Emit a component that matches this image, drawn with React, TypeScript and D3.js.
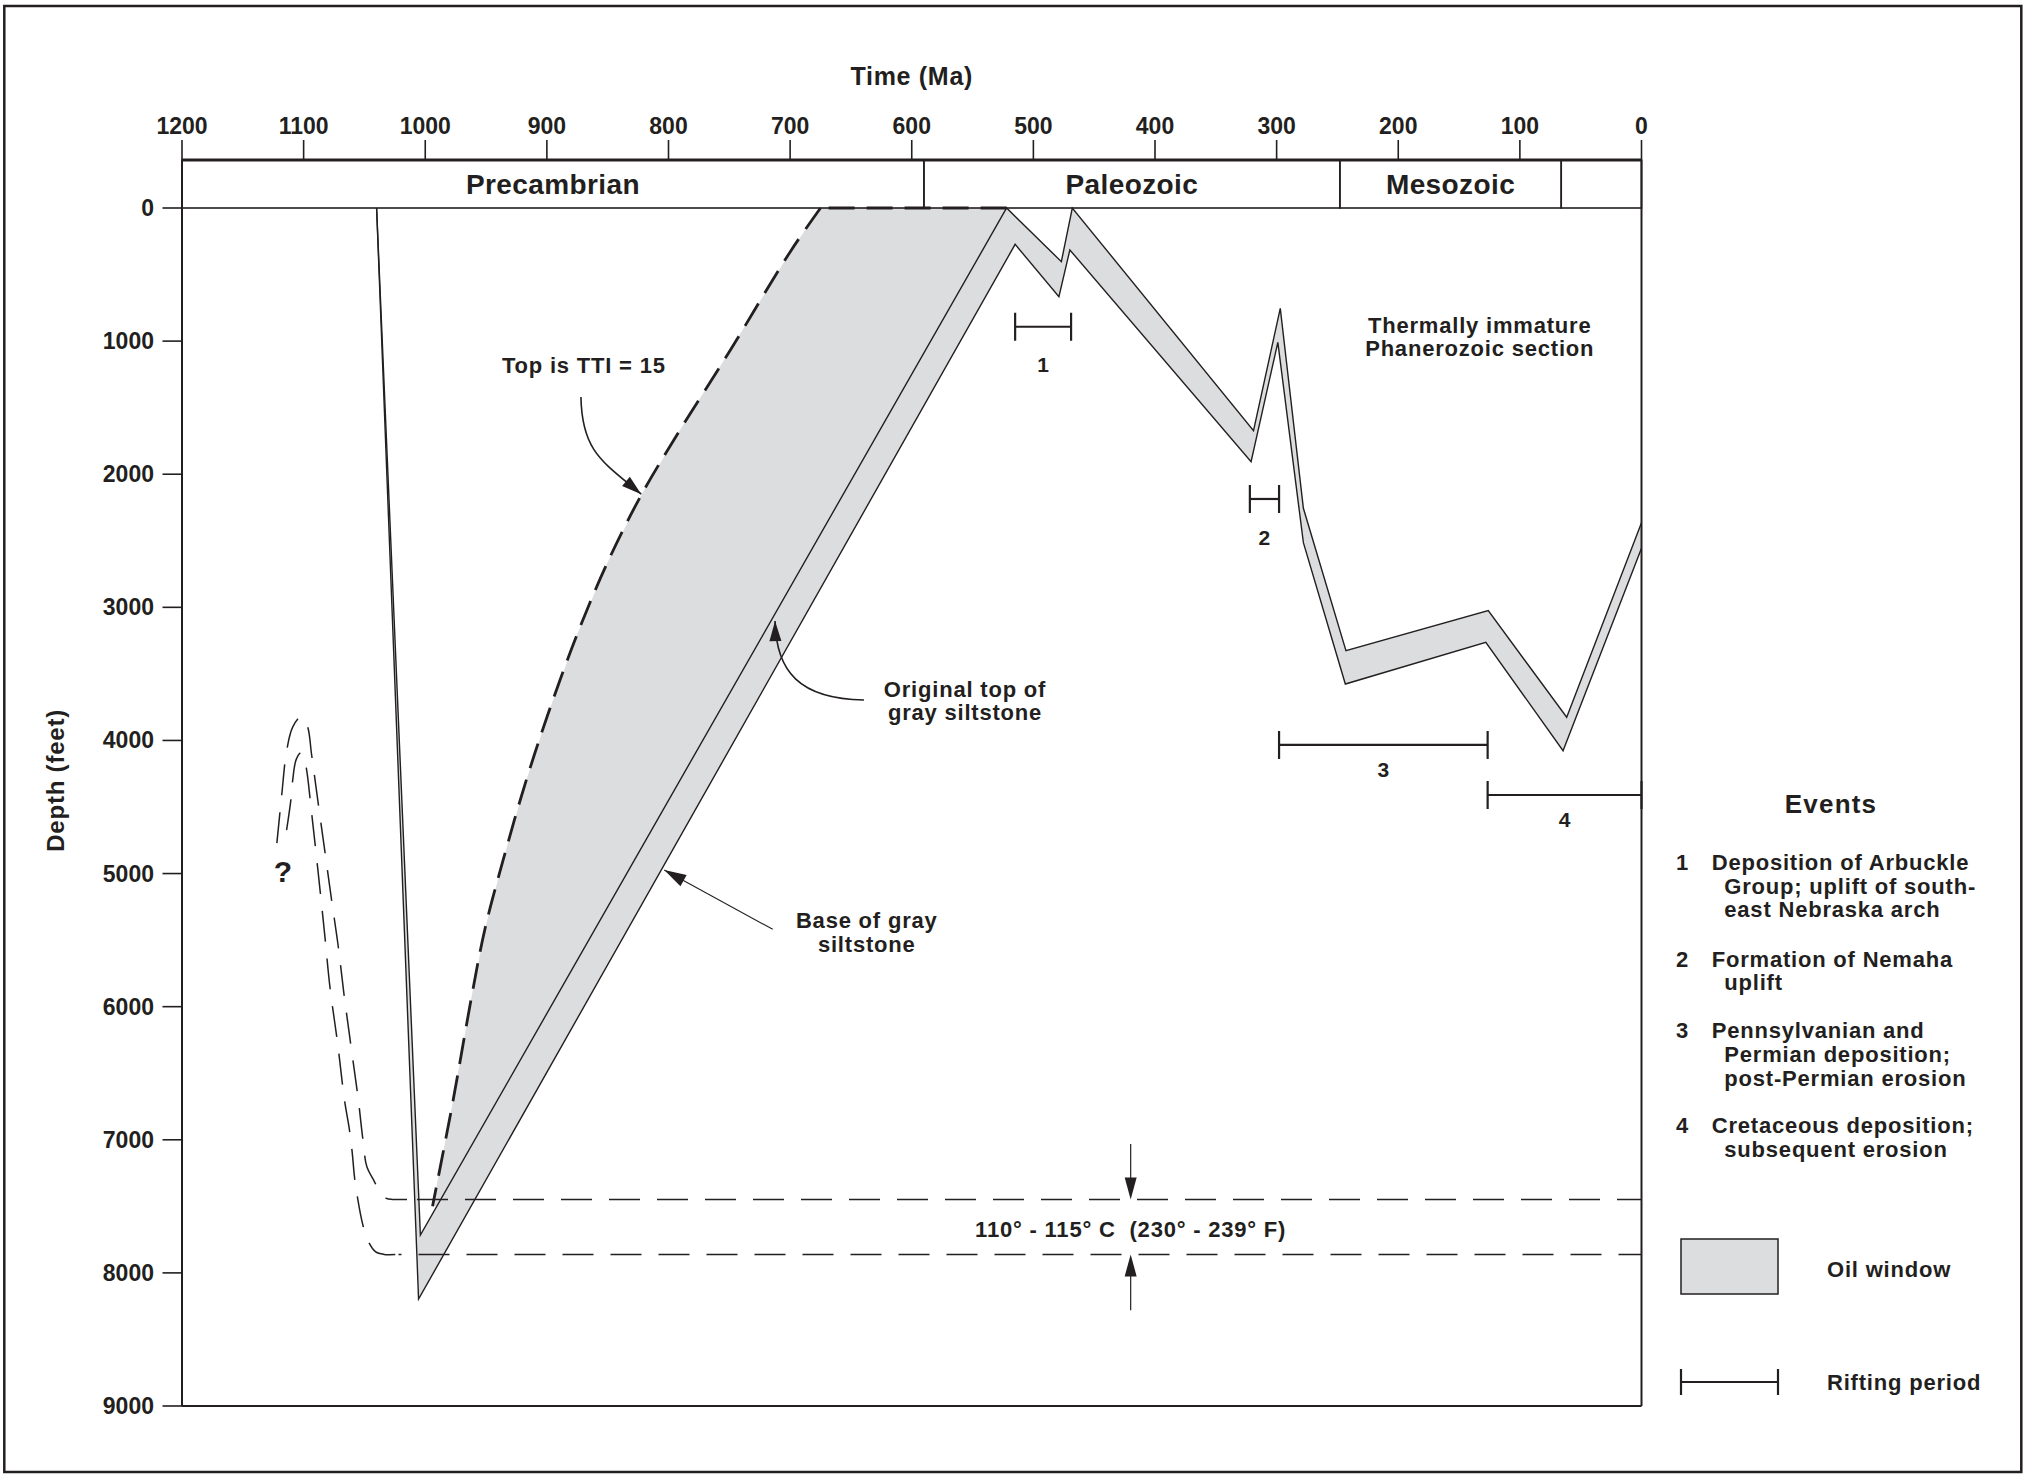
import React from 'react';
import * as d3 from 'd3';

// ---------- data ----------
const timeTicks = [1200, 1100, 1000, 900, 800, 700, 600, 500, 400, 300, 200, 100, 0];
const depthTicks = [0, 1000, 2000, 3000, 4000, 5000, 6000, 7000, 8000, 9000];
const eraNames = ['Precambrian', 'Paleozoic', 'Mesozoic', ''];
const eraBounds = [1200, 590, 248, 66, 0];

// [age Ma, depth ft]
const siltTop: [number, number][] = [
  [1040, 0], [1004, 7716], [522, 0], [477, 403], [468, 0], [319, 1673], [297, 754],
  [278, 2256], [243, 3326], [126, 3025], [61.5, 3826], [0, 2364],
];
const siltBase: [number, number][] = [
  [1040, 0], [1005.5, 8197], [515, 273], [479, 666], [470, 315], [321, 1906], [299, 1009],
  [278, 2514], [243.5, 3576], [128, 3263], [64.5, 4077], [0, 2557],
];
// top of oil window (TTI = 15)
const ttiTop: [number, number][] = [
  [675, 0], [700, 330], [750, 1080], [790, 1660], [822, 2150], [850, 2660], [875, 3200],
  [899, 3800], [918, 4330], [936, 4900], [951, 5420], [962, 5930], [977, 6700], [985, 7080], [994, 7500],
];
const ttiFlat: [number, number][] = [[522, 0], [675, 0]];

// 110 - 115 C isotherm paths (curved part, then flat part)
const iso110: [number, number][] = [
  [1122, 4771], [1118, 4410], [1114, 4080], [1109, 3900], [1102, 3822], [1097, 3890], [1093.4, 4110],
  [1088, 4473], [1082.5, 4836], [1077, 5199], [1071.5, 5550], [1066.9, 5900], [1061, 6300], [1055, 6702],
  [1051.5, 6980], [1048, 7203], [1042, 7310], [1037, 7400], [1032, 7440], [1027, 7448], [1015, 7448],
];
const iso110Flat: [number, number][] = [[1015, 7448], [0, 7448]];
const iso115: [number, number][] = [
  [1114, 4673], [1110.5, 4448], [1109, 4300], [1106, 4140], [1102, 4092], [1098.6, 4172], [1093.4, 4548],
  [1086.5, 5124], [1082.5, 5474], [1078.4, 5850], [1072, 6280], [1066.4, 6702], [1062.3, 6927],
  [1060, 7100], [1058.2, 7278], [1056.3, 7401], [1051.3, 7640], [1047, 7760], [1041, 7840], [1034, 7861], [1022, 7861],
];
const iso115Flat: [number, number][] = [[1022, 7861], [0, 7861]];

// rifting events
const eventIds = ['1', '2', '3', '4'];
const eventStart = [515, 322, 298, 126.5];
const eventEnd = [469, 298, 126.5, 0];
const eventDepth = [892, 2186, 4034, 4410];
const eventLabelDepth = [1232, 2531, 4271, 4647];

const legendIds = ['1', '2', '3', '4'];
const legendLines = [
  ['Deposition of Arbuckle', 'Group; uplift of south-', 'east Nebraska arch'],
  ['Formation of Nemaha', 'uplift'],
  ['Pennsylvanian and', 'Permian deposition;', 'post-Permian erosion'],
  ['Cretaceous deposition;', 'subsequent erosion'],
];
const legendTop = [870, 966.7, 1038.3, 1133.3];

// ---------- style ----------
const FONT = '"Liberation Sans", Arial, Helvetica, sans-serif';
const INK = '#231f20';
const GRAY = '#dcdddf';

const xS = d3.scaleLinear().domain([1200, 0]).range([182, 1641.5]);
const yS = d3.scaleLinear().domain([0, 9000]).range([208, 1406]);

const line = d3.line<[number, number]>().x(d => xS(d[0])).y(d => yS(d[1]));
const smooth = d3.line<[number, number]>().x(d => xS(d[0])).y(d => yS(d[1])).curve(d3.curveCatmullRom.alpha(0.5));

function onSegment(a: [number, number], b: [number, number], depth: number): [number, number] {
  const t = (depth - a[1]) / (b[1] - a[1]);
  return [a[0] + (b[0] - a[0]) * t, depth];
}

function arrowHead(tip: [number, number], from: [number, number], len = 20, half = 6) {
  const dx = tip[0] - from[0], dy = tip[1] - from[1];
  const L = Math.hypot(dx, dy);
  const ux = dx / L, uy = dy / L;
  const bx = tip[0] - ux * len, by = tip[1] - uy * len;
  return `M${tip[0]},${tip[1]}L${bx - uy * half},${by + ux * half}L${bx + uy * half},${by - ux * half}Z`;
}

export default function App() {
  const bandPts = [...siltTop, ...[...siltBase].reverse()];
  const bandPath = line(bandPts) + 'Z';
  const ttiEndOnTop = onSegment(siltTop[1], siltTop[2], ttiTop[ttiTop.length - 1][1]);
  const oilPts: [number, number][] = [...ttiTop, ttiEndOnTop, siltTop[2]];
  const oilPath = line(oilPts) + 'Z';

  // annotation arrows (data coordinates -> pixels)
  const ttiStart: [number, number] = [xS(872), yS(1420)];
  const ttiTip: [number, number] = [xS(822.4), yS(2150)];
  const ttiC1: [number, number] = [ttiStart[0] + 1, ttiStart[1] + 55];
  const ttiC2: [number, number] = [ttiTip[0] - 38, ttiTip[1] - 32];

  const origStart: [number, number] = [xS(639.3), yS(3696)];
  const origTip: [number, number] = [xS(712.4), yS(3103)];
  const origC1: [number, number] = [origStart[0] - 65, origStart[1] - 1];
  const origC2: [number, number] = [origTip[0] + 1, origTip[1] + 50];

  const baseStart: [number, number] = [xS(714.3), yS(5419)];
  const baseTip: [number, number] = [xS(803.5), yS(4974)];

  const tempX = xS(420);
  const lab = { fontSize: 22, fontWeight: 700, letterSpacing: 0.8, fill: INK } as const;

  return (
    <svg width={2023} height={1476} style={{ position: 'absolute', left: 0, top: 0, background: '#fff' }} fontFamily={FONT}>
      <rect x={4.3} y={6} width={2017} height={1466} fill="#fff" stroke={INK} strokeWidth={2.5} />

      {/* fills */}
      <path d={oilPath} fill={GRAY} stroke="none" />
      <path d={bandPath} fill={GRAY} stroke="none" />

      {/* burial curves */}
      <path d={line(siltTop) || ''} fill="none" stroke={INK} strokeWidth={1.4} strokeLinejoin="miter" />
      <path d={line(siltBase) || ''} fill="none" stroke={INK} strokeWidth={1.4} strokeLinejoin="miter" />

      {/* isotherms */}
      <path d={smooth(iso110) || ''} fill="none" stroke={INK} strokeWidth={1.5} strokeDasharray="31 17" />
      <path d={line(iso110Flat) || ''} fill="none" stroke={INK} strokeWidth={1.5} strokeDasharray="31 17" strokeDashoffset={-10} />
      <path d={smooth(iso115) || ''} fill="none" stroke={INK} strokeWidth={1.5} strokeDasharray="31 17" />
      <path d={line(iso115Flat) || ''} fill="none" stroke={INK} strokeWidth={1.5} strokeDasharray="31 17" strokeDashoffset={-20} />

      {/* era box & axes */}
      {eraNames.map((n, i) => (
        <g key={'era' + i}>
          <rect x={xS(eraBounds[i])} y={160} width={xS(eraBounds[i + 1]) - xS(eraBounds[i])} height={48} fill="none" stroke={INK} strokeWidth={1.6} />
          {n && (
            <text x={(xS(eraBounds[i]) + xS(eraBounds[i + 1])) / 2} y={194} textAnchor="middle" fontSize={28} fontWeight={700} letterSpacing={0.4} fill={INK}>{n}</text>
          )}
        </g>
      ))}
      <line x1={xS(1200)} x2={xS(0)} y1={160} y2={160} stroke={INK} strokeWidth={3} />
      <line x1={xS(1200)} x2={xS(1200)} y1={160} y2={yS(9000)} stroke={INK} strokeWidth={2} />
      <line x1={xS(0)} x2={xS(0)} y1={160} y2={yS(9000)} stroke={INK} strokeWidth={2} />
      <line x1={xS(1200)} x2={xS(0)} y1={yS(9000)} y2={yS(9000)} stroke={INK} strokeWidth={2} />

      {/* TTI = 15 dashed line */}
      <path d={line(ttiFlat) || ''} fill="none" stroke={INK} strokeWidth={3} strokeDasharray="26 12" />
      <path d={smooth(ttiTop) || ''} fill="none" stroke={INK} strokeWidth={2.8} strokeDasharray="26 12" />

      {timeTicks.map(t => (
        <g key={'xt' + t}>
          <line x1={xS(t)} x2={xS(t)} y1={140} y2={160} stroke={INK} strokeWidth={1.6} />
          <text x={xS(t)} y={134} textAnchor="middle" fontSize={23} fontWeight={700} fill={INK}>{t}</text>
        </g>
      ))}
      {depthTicks.map(d => (
        <g key={'yt' + d}>
          <line x1={162.5} x2={xS(1200)} y1={yS(d)} y2={yS(d)} stroke={INK} strokeWidth={1.6} />
          <text x={154} y={yS(d) + 8} textAnchor="end" fontSize={23} fontWeight={700} fill={INK}>{d}</text>
        </g>
      ))}
      <text x={xS(600)} y={85} textAnchor="middle" fontSize={25} fontWeight={700} letterSpacing={0.7} fill={INK}>Time (Ma)</text>
      <text transform={`translate(64,${yS(4300)}) rotate(-90)`} textAnchor="middle" fontSize={24} fontWeight={700} letterSpacing={0.8} fill={INK}>Depth (feet)</text>

      {/* rifting events on chart */}
      {eventIds.map((id, i) => (
        <g key={'ev' + id}>
          <line x1={xS(eventStart[i])} x2={xS(eventEnd[i])} y1={yS(eventDepth[i])} y2={yS(eventDepth[i])} stroke={INK} strokeWidth={2.2} />
          <line x1={xS(eventStart[i])} x2={xS(eventStart[i])} y1={yS(eventDepth[i]) - 14} y2={yS(eventDepth[i]) + 14} stroke={INK} strokeWidth={2.2} />
          <line x1={xS(eventEnd[i])} x2={xS(eventEnd[i])} y1={yS(eventDepth[i]) - 14} y2={yS(eventDepth[i]) + 14} stroke={INK} strokeWidth={2.2} />
          <text x={(xS(eventStart[i]) + xS(eventEnd[i])) / 2} y={yS(eventLabelDepth[i])} textAnchor="middle" fontSize={21} fontWeight={700} fill={INK}>{id}</text>
        </g>
      ))}

      {/* annotations */}
      <text x={xS(869.6)} y={yS(1240)} textAnchor="middle" {...lab}>Top is TTI = 15</text>
      <path d={`M${ttiStart}C${ttiC1} ${ttiC2} ${ttiTip}`} fill="none" stroke={INK} strokeWidth={1.6} />
      <path d={arrowHead(ttiTip, ttiC2, 20, 6)} fill={INK} />

      <text x={xS(556.2)} y={yS(3672)} textAnchor="middle" {...lab}>Original top of</text>
      <text x={xS(556.2)} y={yS(3672) + 23.5} textAnchor="middle" {...lab}>gray siltstone</text>
      <path d={`M${origStart}C${origC1} ${origC2} ${origTip}`} fill="none" stroke={INK} strokeWidth={1.6} />
      <path d={arrowHead(origTip, origC2, 20, 6)} fill={INK} />

      <text x={xS(637)} y={yS(5412)} textAnchor="middle" {...lab}>Base of gray</text>
      <text x={xS(637)} y={yS(5412) + 23.5} textAnchor="middle" {...lab}>siltstone</text>
      <line x1={baseStart[0]} y1={baseStart[1]} x2={baseTip[0]} y2={baseTip[1]} stroke={INK} strokeWidth={1.1} />
      <path d={arrowHead(baseTip, baseStart, 22, 6.5)} fill={INK} />

      <text x={xS(133)} y={yS(939)} textAnchor="middle" {...lab}>Thermally immature</text>
      <text x={xS(133)} y={yS(939) + 23.5} textAnchor="middle" {...lab}>Phanerozoic section</text>

      <text x={xS(1117)} y={yS(4981) + 11} textAnchor="middle" fontSize={30} fontWeight={700} fill={INK}>?</text>

      {/* temperature range */}
      <line x1={tempX} x2={tempX} y1={yS(7032)} y2={yS(7448) - 10} stroke={INK} strokeWidth={1.2} />
      <path d={arrowHead([tempX, yS(7448)], [tempX, yS(7032)], 22, 6)} fill={INK} />
      <line x1={tempX} x2={tempX} y1={yS(8280)} y2={yS(7861) + 10} stroke={INK} strokeWidth={1.2} />
      <path d={arrowHead([tempX, yS(7861)], [tempX, yS(8280)], 22, 6)} fill={INK} />
      <text x={tempX} y={yS(7729)} textAnchor="middle" {...lab} style={{ whiteSpace: 'pre' }}>{'110° - 115° C  (230° - 239° F)'}</text>

      {/* legend */}
      <text x={1831} y={813} textAnchor="middle" fontSize={26} fontWeight={700} letterSpacing={1.2} fill={INK}>Events</text>
      {legendIds.map((id, i) => (
        <g key={'lg' + id}>
          <text x={1682} y={legendTop[i]} textAnchor="middle" {...lab} letterSpacing={0}>{id}</text>
          {legendLines[i].map((t, j) => (
            <text key={j} x={j === 0 ? 1711.7 : 1724.3} y={legendTop[i] + j * 23.7} {...lab}>{t}</text>
          ))}
        </g>
      ))}
      <rect x={1681} y={1239} width={97} height={55} fill={GRAY} stroke={INK} strokeWidth={1.5} />
      <text x={1827} y={1277} {...lab}>Oil window</text>
      <line x1={1681} x2={1778} y1={1382} y2={1382} stroke={INK} strokeWidth={2.2} />
      <line x1={1681} x2={1681} y1={1369} y2={1395} stroke={INK} strokeWidth={2.2} />
      <line x1={1778} x2={1778} y1={1369} y2={1395} stroke={INK} strokeWidth={2.2} />
      <text x={1827} y={1390} {...lab}>Rifting period</text>
    </svg>
  );
}
